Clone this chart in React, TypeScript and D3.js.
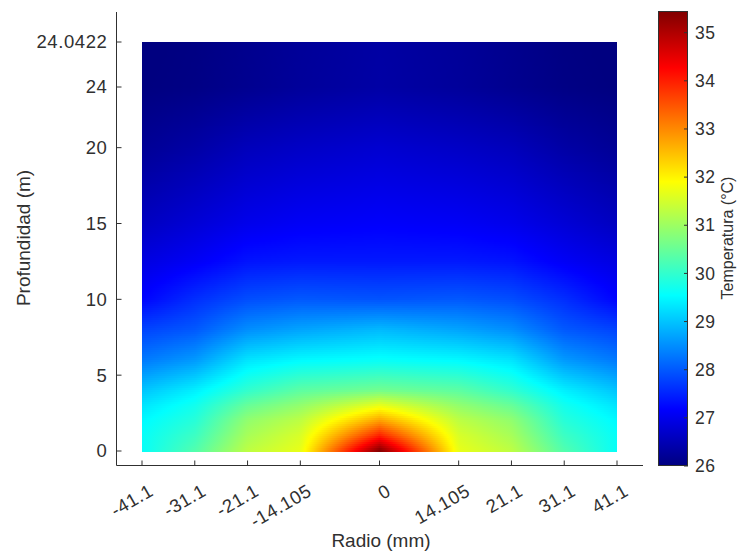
import React, { useMemo } from "react";
import * as d3 from "d3";

// ---------------- data ----------------
const radii = [-41.1, -31.1, -21.1, -14.105, 0, 14.105, 21.1, 31.1, 41.1];
const xTickLabels = ["-41.1", "-31.1", "-21.1", "-14.105", "0", "14.105", "21.1", "31.1", "41.1"];
// relative column slots used by the original plot (index-spaced axis)
const radiusSlots = [0, 1, 2, 3, 4.5, 6, 7, 8, 9];

const depths = [0, 1, 2, 3, 4, 6, 8, 10, 12.5, 15, 20, 24, 24.0422];
// temperature (°C) per depth row, for each |radius| column
const tempR41 = [29.6, 29.6, 29.5, 29.3, 29.0, 28.3, 27.8, 27.2, 26.9, 26.6, 26.2, 26.0, 25.98];
const tempR31 = [30.3, 30.1, 29.9, 29.7, 29.4, 28.6, 28.0, 27.6, 27.1, 26.8, 26.35, 26.05, 26.03];
const tempR21 = [31.3, 31.1, 30.9, 30.5, 30.0, 29.3, 28.5, 27.9, 27.35, 27.0, 26.55, 26.15, 26.13];
const tempR14 = [31.7, 31.55, 31.3, 30.9, 30.4, 29.5, 28.7, 28.0, 27.4, 27.1, 26.65, 26.25, 26.23];
const tempR0 = [35.45, 34.0, 32.8, 31.7, 30.6, 29.6, 28.9, 27.95, 27.4, 27.15, 26.75, 26.35, 26.33];

const yTicks = [0, 5, 10, 15, 20, 24, 24.0422];
const yTickLabels = ["0", "5", "10", "15", "20", "24", "24.0422"];
const cbTicks = [26, 27, 28, 29, 30, 31, 32, 33, 34, 35];
const tempMin = 26;
const tempMax = 35.45;

// ---------------- layout ----------------
const W = 738;
const H = 554;
const plotL = 142;
const plotR = 617;
const plotB = 451;
const axisX = 116.5;
const axisY = 465.5;
const cbL = 658;
const cbR = 688;
const cbTop = 11;
const cbBot = 466;
const textColor = "#303030";
const font = "'Liberation Sans', Arial, Helvetica, sans-serif";

function jet(t: number): string {
  const c = (v: number) => Math.max(0, Math.min(1, v));
  const r = c(1.5 - Math.abs(4 * t - 3));
  const g = c(1.5 - Math.abs(4 * t - 2));
  const b = c(1.5 - Math.abs(4 * t - 1));
  return d3.rgb(r * 255, g * 255, b * 255).formatHex();
}

export default function App() {
  const columns = [tempR41, tempR31, tempR21, tempR14, tempR0, tempR14, tempR21, tempR31, tempR41];

  const x = d3
    .scaleLinear()
    .domain(radii)
    .range(radiusSlots.map((s) => plotL + (s * (plotR - plotL)) / 9));
  const y = d3.scaleLinear().domain([0, 24, 24.0422]).range([plotB, 87, 42]);
  const cScale = d3.scaleLinear().domain([tempMin, tempMax]).range([0, 1]).clamp(true);
  const cbY = d3.scaleLinear().domain([tempMin, tempMax]).range([cbBot, cbTop]);

  const valueAt = (r: number, z: number) => {
    let ci = d3.bisectRight(radii, r) - 1;
    ci = Math.max(0, Math.min(radii.length - 2, ci));
    const fx = (r - radii[ci]) / (radii[ci + 1] - radii[ci]);
    let ri = d3.bisectRight(depths, z) - 1;
    ri = Math.max(0, Math.min(depths.length - 2, ri));
    const fz = Math.max(0, Math.min(1, (z - depths[ri]) / (depths[ri + 1] - depths[ri])));
    const a = columns[ci][ri] * (1 - fx) + columns[ci + 1][ri] * fx;
    const b = columns[ci][ri + 1] * (1 - fx) + columns[ci + 1][ri + 1] * fx;
    return a * (1 - fz) + b * fz;
  };

  const strips = useMemo(() => {
    const out: { y0: number; h: number; stops: { off: number; col: string }[] }[] = [];
    const top = y(24.0422);
    const step = 2;
    for (let py = top; py < plotB; py += step) {
      const h = Math.min(step, plotB - py);
      const z = y.invert(py + h / 2);
      const stops: { off: number; col: string }[] = [];
      const n = 160;
      for (let i = 0; i <= n; i++) {
        const px = plotL + ((plotR - plotL) * i) / n;
        const r = x.invert(px);
        stops.push({ off: i / n, col: jet(cScale(valueAt(r, z))) });
      }
      out.push({ y0: py, h, stops });
    }
    return out;
  }, []);

  const cbStops = d3.range(0, 65).map((i) => ({ off: i / 64, col: jet(1 - i / 64) }));

  return (
    <svg
      width={W}
      height={H}
      style={{ position: "absolute", left: 0, top: 0, background: "#fff" }}
      fontFamily={font}
    >
      <defs>
        {strips.map((s, i) => (
          <linearGradient key={i} id={`st${i}`} gradientUnits="userSpaceOnUse" x1={plotL} x2={plotR} y1={0} y2={0}>
            {s.stops.map((st, j) => (
              <stop key={j} offset={st.off} stopColor={st.col} />
            ))}
          </linearGradient>
        ))}
        <linearGradient id="cbgrad" x1={0} x2={0} y1={0} y2={1}>
          {cbStops.map((st, j) => (
            <stop key={j} offset={st.off} stopColor={st.col} />
          ))}
        </linearGradient>
      </defs>
      <rect x={0} y={0} width={W} height={H} fill="#fff" />

      {/* heatmap */}
      <g shapeRendering="crispEdges">
        {strips.map((s, i) => (
          <rect key={i} x={plotL} y={s.y0} width={plotR - plotL} height={s.h + 0.6} fill={`url(#st${i})`} />
        ))}
      </g>

      {/* axes */}
      <g stroke={textColor} strokeWidth={1} fill="none">
        <line x1={axisX} x2={axisX} y1={12} y2={axisY} />
        <line x1={axisX} x2={643} y1={axisY} y2={axisY} />
        {yTicks.map((t, i) => (
          <line key={i} x1={axisX} x2={axisX + 5} y1={y(t)} y2={y(t)} />
        ))}
        {radii.map((t, i) => (
          <line key={i} x1={x(t)} x2={x(t)} y1={axisY} y2={axisY - 5} />
        ))}
      </g>
      <g fill={textColor} fontSize={18.5} letterSpacing={0.6}>
        {yTicks.map((t, i) => (
          <text key={i} x={axisX - 9} y={y(t)} dy="0.35em" textAnchor="end">
            {yTickLabels[i]}
          </text>
        ))}
        {radii.map((t, i) => (
          <text
            key={i}
            transform={`translate(${x(t) + 6},${483}) rotate(-30)`}
            dy="0.72em"
            textAnchor="end"
          >
            {xTickLabels[i]}
          </text>
        ))}
      </g>
      <text x={381} y={540} dy="0.35em" textAnchor="middle" fontSize={19} fill={textColor}>
        Radio (mm)
      </text>
      <text
        transform={`translate(23,238) rotate(-90)`}
        dy="0.35em"
        textAnchor="middle"
        fontSize={19}
        fill={textColor}
      >
        Profundidad (m)
      </text>

      {/* colorbar */}
      <rect x={cbL} y={cbTop} width={cbR - cbL} height={cbBot - cbTop} fill="url(#cbgrad)" />
      <rect x={cbL + 0.5} y={cbTop + 0.5} width={cbR - cbL - 1} height={cbBot - cbTop - 1} fill="none" stroke={textColor} strokeWidth={1} />
      <g stroke={textColor} strokeWidth={1}>
        {cbTicks.map((t, i) => (
          <line key={i} x1={cbR - 4} x2={cbR} y1={cbY(t)} y2={cbY(t)} />
        ))}
      </g>
      <g fill={textColor} fontSize={17.5} letterSpacing={0.5}>
        {cbTicks.map((t, i) => (
          <text key={i} x={cbR + 7} y={cbY(t)} dy="0.35em" textAnchor="start">
            {String(t)}
          </text>
        ))}
      </g>
      <text
        transform={`translate(727,238) rotate(-90)`}
        dy="0.35em"
        textAnchor="middle"
        fontSize={16}
        fill={textColor}
      >
        Temperatura (°C)
      </text>
    </svg>
  );
}
